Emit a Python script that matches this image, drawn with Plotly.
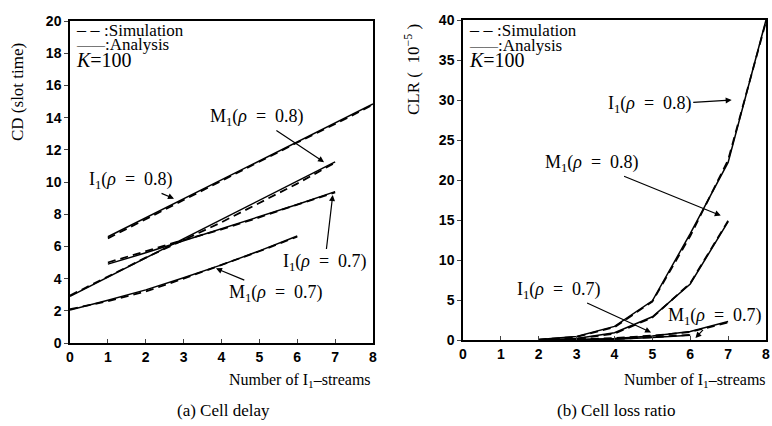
import plotly.graph_objects as go

# ---------------- data ----------------
# (a) Cell delay
cd_x_I08 = [1, 2, 3, 4, 5, 6, 7, 8]
cd_I08_ana = [6.6, 7.78, 8.96, 10.14, 11.32, 12.5, 13.68, 14.85]
cd_I08_sim = [6.5, 7.7, 8.9, 10.05, 11.3, 12.45, 13.6, 14.8]

cd_x_M08 = [0, 1, 2, 3, 4, 5, 6, 7]
cd_M08_ana = [2.9, 4.1, 5.3, 6.45, 7.65, 8.85, 10.05, 11.25]
cd_M08_sim = [2.95, 4.15, 5.3, 6.4, 7.5, 8.7, 9.9, 11.2]

cd_x_I07 = [1, 2, 3, 4, 5, 6, 7]
cd_I07_ana = [4.9, 5.6, 6.35, 7.1, 7.85, 8.6, 9.4]
cd_I07_sim = [5.0, 5.7, 6.4, 7.05, 7.8, 8.6, 9.35]

cd_x_M07 = [0, 1, 2, 3, 4, 5, 6]
cd_M07_ana = [2.05, 2.65, 3.3, 4.05, 4.85, 5.72, 6.65]
cd_M07_sim = [2.1, 2.6, 3.2, 4.0, 4.85, 5.7, 6.6]

# (b) Cell loss ratio (x 1e-5)
clr_x_I08 = [2, 3, 4, 5, 6, 7, 8]
clr_I08_ana = [0.05, 0.45, 1.7, 4.9, 13.3, 22.2, 40.0]
clr_I08_sim = [0.05, 0.4, 1.6, 4.8, 13.0, 22.5, 39.8]

clr_x_M08 = [2, 3, 4, 5, 6, 7]
clr_M08_ana = [0.0, 0.2, 0.9, 2.9, 7.0, 14.8]
clr_M08_sim = [0.0, 0.15, 0.8, 2.8, 7.1, 14.9]

clr_x_I07 = [2, 3, 4, 5, 6, 7]
clr_I07_ana = [0.0, 0.05, 0.2, 0.5, 1.05, 2.3]
clr_I07_sim = [0.0, 0.05, 0.25, 0.55, 1.0, 2.2]

clr_x_M07 = [2, 3, 4, 5, 6]
clr_M07_ana = [0.0, 0.02, 0.1, 0.3, 0.6]
clr_M07_sim = [0.0, 0.03, 0.12, 0.35, 0.65]

x_ticks = [0, 1, 2, 3, 4, 5, 6, 7, 8]
cd_ticks = [0, 2, 4, 6, 8, 10, 12, 14, 16, 18, 20]
clr_ticks = [0, 5, 10, 15, 20, 25, 30, 35, 40]

# ---------------- figure ----------------
SERIF = "Liberation Serif"
SANS = "Liberation Sans"

W, H = 772, 426

def fx(px):
    return px / W

def fy(py):
    return 1 - py / H

fig = go.Figure()

def add_pair(x, ana, sim, xa, ya):
    fig.add_trace(go.Scatter(x=x, y=ana, mode="lines", xaxis=xa, yaxis=ya,
                             line=dict(color="black", width=1.5),
                             name="Analysis", showlegend=False))
    fig.add_trace(go.Scatter(x=x, y=sim, mode="lines", xaxis=xa, yaxis=ya,
                             line=dict(color="black", width=1.8, dash="8px,5px"),
                             name="Simulation", showlegend=False))

add_pair(cd_x_I08, cd_I08_ana, cd_I08_sim, "x", "y")
add_pair(cd_x_M08, cd_M08_ana, cd_M08_sim, "x", "y")
add_pair(cd_x_I07, cd_I07_ana, cd_I07_sim, "x", "y")
add_pair(cd_x_M07, cd_M07_ana, cd_M07_sim, "x", "y")

add_pair(clr_x_I08, clr_I08_ana, clr_I08_sim, "x2", "y2")
add_pair(clr_x_M08, clr_M08_ana, clr_M08_sim, "x2", "y2")
add_pair(clr_x_I07, clr_I07_ana, clr_I07_sim, "x2", "y2")
add_pair(clr_x_M07, clr_M07_ana, clr_M07_sim, "x2", "y2")

axis_common = dict(showgrid=False, zeroline=False, showline=True, linecolor="black",
                   linewidth=1.5, mirror=True, automargin=False,
                   tickfont=dict(family=SANS, size=14, color="black", weight="bold"))

fig.update_layout(
    width=W, height=H,
    margin=dict(l=0, r=0, t=0, b=0, autoexpand=False),
    paper_bgcolor="white", plot_bgcolor="white",
    showlegend=False,
    xaxis=dict(domain=[fx(70), fx(373)], range=[0, 8], tickvals=x_ticks,
               ticks="inside", ticklen=4, anchor="y", **axis_common),
    yaxis=dict(domain=[fy(343), fy(21)], range=[0, 20], tickvals=cd_ticks,
               ticks="outside", ticklen=4, anchor="x", **axis_common),
    xaxis2=dict(domain=[fx(463), fx(766)], range=[0, 8], tickvals=x_ticks,
                ticks="inside", ticklen=4, anchor="y2", **axis_common),
    yaxis2=dict(domain=[fy(340), fy(20)], range=[0, 40], tickvals=clr_ticks,
                ticks="outside", ticklen=4, anchor="x2", **axis_common),
)

afont = dict(family=SERIF, size=18, color="black")
anns = []
SP = "\u2002"

def rho_label(name, val):
    return f"{name}<sub>1</sub>(<i>ρ</i>{SP}={SP}{val})"

def label(text, tx, ty, hx, hy, xr, yr):
    anns.append(dict(text=text, x=hx, y=hy, ax=tx, ay=ty, xref=xr, yref=yr,
                     axref=xr, ayref=yr, showarrow=True, arrowhead=2,
                     arrowsize=1, arrowwidth=1.2, arrowcolor="black",
                     xanchor="center", yanchor="middle",
                     font=afont, standoff=1))

label(rho_label("I", "0.8"), 1.61, 10.1, 2.77, 8.94, "x", "y")
label(rho_label("M", "0.8"), 4.93, 14.0, 6.73, 11.2, "x", "y")
label(rho_label("I", "0.7"), 6.73, 5.03, 6.94, 9.25, "x", "y")
label(rho_label("M", "0.7"), 5.43, 3.1, 3.83, 4.66, "x", "y")

label(rho_label("I", "0.8"), 4.93, 29.4, 7.12, 30.0, "x2", "y2")
label(rho_label("M", "0.8"), 3.41, 22.1, 6.83, 15.5, "x2", "y2")
label(rho_label("I", "0.7"), 2.53, 6.25, 4.99, 0.9, "x2", "y2")
label(rho_label("M", "0.7"), 6.65, 2.9, 6.12, 0.15, "x2", "y2")

# legend text and K=100 (inside top-left of each panel)
def key_block(xref, yref, ytop, ystep):
    lfont = dict(family=SERIF, size=17, color="black")
    anns.append(dict(text="<span style='font-size:18px'>– – </span>:Simulation",
                     x=0.1, y=ytop, xref=xref, yref=yref, xanchor="left",
                     yanchor="middle", showarrow=False, font=lfont))
    anns.append(dict(text="<span style='font-size:14px'>——</span>:Analysis",
                     x=0.1, y=ytop - ystep, xref=xref, yref=yref, xanchor="left",
                     yanchor="middle", showarrow=False, font=lfont))
    anns.append(dict(text="<i>K</i>=100", x=0.1, y=ytop - 2 * ystep, xref=xref,
                     yref=yref, xanchor="left", yanchor="middle", showarrow=False,
                     font=dict(family=SERIF, size=20, color="black")))

key_block("x", "y", 19.45, 0.93)
key_block("x2", "y2", 38.75, 1.9)

def ptext(text, px, py, size=17, angle=0):
    anns.append(dict(text=text, x=fx(px), y=fy(py), xref="paper", yref="paper",
                     xanchor="center", yanchor="middle", textangle=angle,
                     showarrow=False, font=dict(family=SERIF, size=size, color="black")))

# axis titles and captions
ptext("CD (slot time)", 17, 92, 17, -90)
ptext("CLR (  10<sup>−5</sup> )", 412, 70, 17, -90)
ptext("Number of I<sub>1</sub>–streams", 300, 380, 16)
ptext("Number of I<sub>1</sub>–streams", 695, 380, 16)
ptext("(a) Cell delay", 223, 410)
ptext("(b) Cell loss ratio", 616, 410)

fig.update_layout(annotations=anns)
fig.write_html("out.html", config={"displayModeBar": False},
               post_script="document.body.style.margin='0px';"
                           "document.body.style.overflow='hidden';")
